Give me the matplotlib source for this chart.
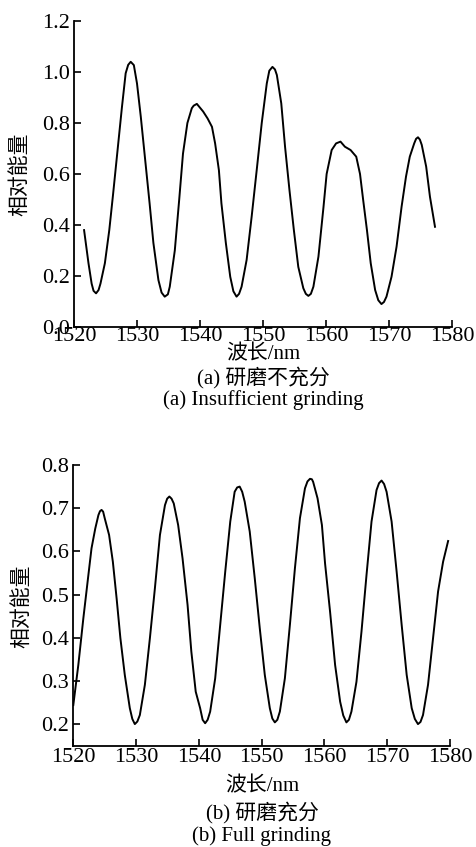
import matplotlib
matplotlib.use("Agg")
import matplotlib.pyplot as plt

plt.rcParams['font.family'] = ['Liberation Serif', 'Noto Sans CJK SC']
plt.rcParams['axes.unicode_minus'] = False

# (a) insufficient grinding
wl_a = [1521.6, 1522.3, 1522.8, 1523.1, 1523.5, 1523.9, 1524.2, 1524.9, 1525.6, 1526.2,
        1526.9, 1527.6, 1528.2, 1528.6, 1529.0, 1529.5, 1530.0, 1530.6, 1531.3, 1532.0,
        1532.6, 1533.4, 1533.9, 1534.4, 1534.9, 1535.2, 1536.0, 1536.7, 1537.3, 1538.0,
        1538.7, 1539.0, 1539.5, 1540.5, 1541.2, 1541.9, 1542.4, 1543.0, 1543.4, 1544.1,
        1544.8, 1545.3, 1545.8, 1546.2, 1546.6, 1547.4, 1548.2, 1549.0, 1549.8, 1550.6,
        1551.0, 1551.5, 1551.9, 1552.2, 1552.9, 1553.5, 1554.2, 1554.9, 1555.6, 1556.4,
        1556.8, 1557.2, 1557.6, 1558.0, 1558.8, 1559.6, 1560.1, 1560.9, 1561.6, 1562.3,
        1563.0, 1563.9, 1564.8, 1565.4, 1565.9, 1566.5, 1567.1, 1567.8, 1568.3, 1568.8,
        1569.2, 1569.6, 1570.4, 1571.2, 1572.0, 1572.7, 1573.3, 1574.0, 1574.3, 1574.6,
        1574.9, 1575.2, 1575.9, 1576.5, 1577.3]
en_a = [0.380, 0.250, 0.170, 0.142, 0.132, 0.145, 0.170, 0.250, 0.380, 0.520,
        0.690, 0.860, 0.995, 1.028, 1.040, 1.027, 0.955, 0.825, 0.655, 0.485,
        0.330, 0.184, 0.135, 0.119, 0.128, 0.158, 0.300, 0.500, 0.680, 0.800,
        0.858, 0.868, 0.875, 0.845, 0.818, 0.785, 0.720, 0.615, 0.485, 0.330,
        0.197, 0.140, 0.119, 0.130, 0.158, 0.263, 0.433, 0.615, 0.800, 0.955,
        1.005, 1.020, 1.010, 0.988, 0.877, 0.707, 0.537, 0.380, 0.236, 0.152,
        0.130, 0.122, 0.130, 0.158, 0.276, 0.470, 0.600, 0.694, 0.720, 0.727,
        0.707, 0.694, 0.668, 0.600, 0.498, 0.380, 0.250, 0.145, 0.105, 0.090,
        0.098, 0.119, 0.197, 0.315, 0.472, 0.590, 0.668, 0.720, 0.738, 0.744,
        0.735, 0.714, 0.629, 0.511, 0.393]

# (b) full grinding
wl_b = [1520.0, 1520.8, 1521.6, 1522.4, 1522.9, 1523.5, 1524.0, 1524.25, 1524.5, 1524.75,
        1525.0, 1525.7, 1526.3, 1526.9, 1527.5, 1528.2, 1529.0, 1529.4, 1529.8, 1530.2,
        1530.6, 1531.4, 1532.2, 1533.0, 1533.8, 1534.6, 1534.95, 1535.3, 1535.65, 1536.0,
        1536.7, 1537.4, 1538.2, 1538.8, 1539.5, 1540.2, 1540.6, 1541.0, 1541.4, 1541.8,
        1542.6, 1543.4, 1544.2, 1545.0, 1545.7, 1546.1, 1546.5, 1546.9, 1547.3, 1548.1,
        1548.9, 1549.7, 1550.5, 1551.3, 1551.7, 1552.1, 1552.5, 1552.9, 1553.7, 1554.5,
        1555.3, 1556.1, 1556.9, 1557.3, 1557.7, 1558.0, 1558.2, 1558.9, 1559.6, 1560.1,
        1560.9, 1561.7, 1562.5, 1563.0, 1563.5, 1563.9, 1564.3, 1565.1, 1565.9, 1566.7,
        1567.5, 1568.3, 1568.7, 1569.1, 1569.5, 1569.9, 1570.7, 1571.5, 1572.3, 1573.1,
        1573.9, 1574.4, 1574.9, 1575.3, 1575.7, 1576.5, 1577.3, 1578.1, 1578.9, 1579.7]
en_b = [0.244, 0.337, 0.445, 0.545, 0.607, 0.653, 0.684, 0.693, 0.696, 0.692,
        0.677, 0.638, 0.576, 0.491, 0.399, 0.314, 0.237, 0.212, 0.200, 0.206,
        0.221, 0.291, 0.399, 0.515, 0.638, 0.707, 0.722, 0.727, 0.722, 0.711,
        0.661, 0.584, 0.476, 0.368, 0.275, 0.237, 0.210, 0.202, 0.210, 0.229,
        0.306, 0.430, 0.553, 0.669, 0.738, 0.748, 0.750, 0.738, 0.715, 0.646,
        0.538, 0.422, 0.314, 0.237, 0.213, 0.204, 0.210, 0.229, 0.306, 0.430,
        0.561, 0.677, 0.746, 0.762, 0.768, 0.767, 0.761, 0.723, 0.661, 0.572,
        0.460, 0.337, 0.252, 0.220, 0.204, 0.210, 0.229, 0.298, 0.414, 0.545,
        0.669, 0.742, 0.758, 0.764, 0.756, 0.738, 0.669, 0.553, 0.430, 0.314,
        0.237, 0.212, 0.200, 0.205, 0.221, 0.291, 0.399, 0.507, 0.576, 0.624]

x_ticks = [1520, 1530, 1540, 1550, 1560, 1570, 1580]
y_ticks_a = [0.0, 0.2, 0.4, 0.6, 0.8, 1.0, 1.2]
y_ticks_b = [0.2, 0.3, 0.4, 0.5, 0.6, 0.7, 0.8]

W, H = 476, 847
fig = plt.figure(figsize=(W / 100, H / 100), dpi=100)

def px_axes(l, t, r, b):
    return fig.add_axes([l / W, 1 - b / H, (r - l) / W, (b - t) / H])

FS = 16
FS_T = 15

def style(ax):
    for s in ('top', 'right'):
        ax.spines[s].set_visible(False)
    for s in ('left', 'bottom'):
        ax.spines[s].set_linewidth(1.3)
    ax.tick_params(direction='in', length=5, width=1.2, labelsize=FS)
    ax.tick_params(axis='x', pad=2)
    ax.tick_params(axis='y', pad=3)
    ax.set_xticks(x_ticks)
    ax.set_xlim(1520, 1580)

ax1 = px_axes(74, 21, 452, 327)
ax1.plot(wl_a, en_a, color='black', lw=1.4)
style(ax1)
ax1.set_ylim(0, 1.2)
ax1.set_yticks(y_ticks_a)
ax1.set_yticklabels([f"{v:.1f}" for v in y_ticks_a])
ax1.tick_params(axis='x', pad=0)

ax2 = px_axes(73.3, 465, 450, 745.7)
ax2.plot(wl_b, en_b, color='black', lw=1.4)
style(ax2)
ax2.set_ylim(0.15, 0.8)
ax2.set_yticks(y_ticks_b)
ax2.set_yticklabels([f"{v:.1f}" for v in y_ticks_b])

def ftext(x, y, s, **kw):
    fig.text(x / W, 1 - y / H, s, ha='center', va='center', fontsize=FS_T, **kw)

ftext(20, 174, "相对能量", rotation=90)
ftext(22, 606, "相对能量", rotation=90)
ftext(263, 355, "波长/nm")
ftext(262, 787, "波长/nm")
ftext(263, 378, "(a) 研磨不充分")
ftext(263, 400, "(a) Insufficient grinding")
ftext(262, 813, "(b) 研磨充分")
ftext(262, 836, "(b) Full grinding")

fig.savefig("out.png", dpi=100)
